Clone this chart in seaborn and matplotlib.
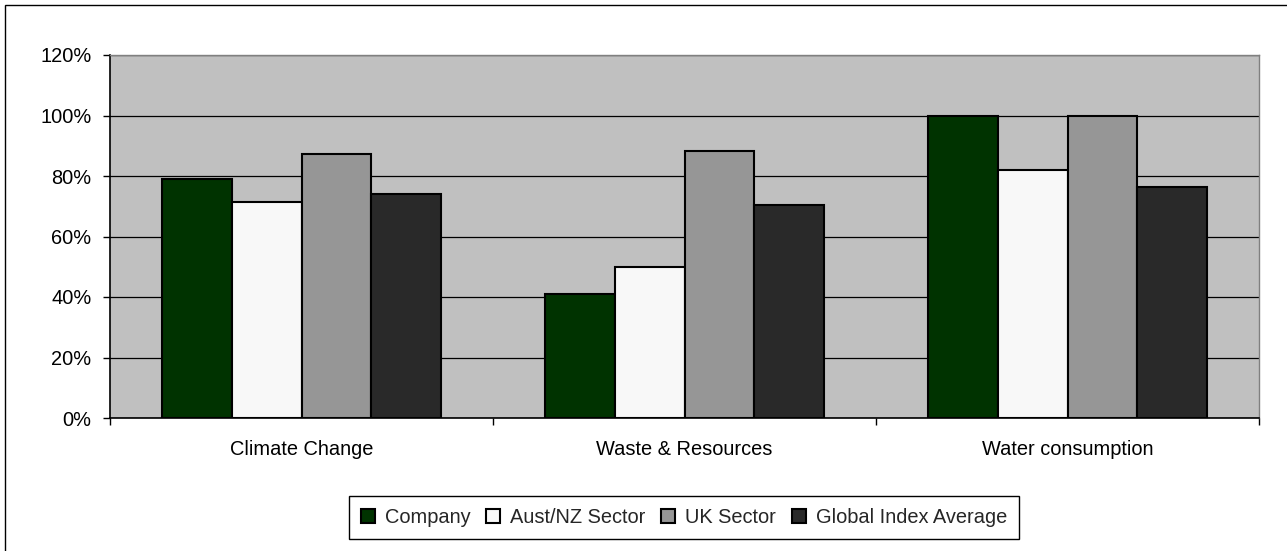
import seaborn as sns
import matplotlib.pyplot as plt
import pandas as pd
from matplotlib.patches import Rectangle
from matplotlib.ticker import PercentFormatter, FixedLocator

categories = ["Climate Change", "Waste & Resources", "Water consumption"]
series = ["Company", "Aust/NZ Sector", "UK Sector", "Global Index Average"]
company = [0.79, 0.41, 1.00]
aust_nz = [0.715, 0.50, 0.82]
uk_sector = [0.872, 0.884, 1.00]
global_avg = [0.74, 0.703, 0.765]
colors = ["#003300", "#F8F8F8", "#969696", "#292929"]

rows = []
for name, vals in zip(series, [company, aust_nz, uk_sector, global_avg]):
    for cat, v in zip(categories, vals):
        rows.append({"category": cat, "series": name, "value": v})
df = pd.DataFrame(rows)

sns.set_style("white")
plt.rcParams['font.family'] = ['Liberation Sans', 'DejaVu Sans']
plt.rcParams['font.size'] = 14.4

fig = plt.figure(figsize=(12.87, 5.51), dpi=100)
ax = fig.add_axes([110 / 1287, 1 - 418 / 551, (1259 - 110) / 1287, (418 - 55) / 551])
ax.set_facecolor("#C0C0C0")

sns.barplot(
    data=df, x="category", y="value", hue="series",
    order=categories, hue_order=series, palette=colors,
    width=0.73, gap=0, edgecolor="black", linewidth=1.5,
    saturation=1, ax=ax, zorder=3
)

ax.set_ylim(0, 1.2)
ax.set_xlim(-0.5, 2.5)
ax.yaxis.set_major_locator(FixedLocator([0, 0.2, 0.4, 0.6, 0.8, 1.0, 1.2]))
ax.yaxis.set_major_formatter(PercentFormatter(1.0, decimals=0))
ax.grid(axis="y", color="black", linewidth=0.9, zorder=1)
ax.set_axisbelow(True)
ax.set_xlabel("")
ax.set_ylabel("")

# separator ticks between categories
ax.xaxis.set_minor_locator(FixedLocator([-0.5, 0.5, 1.5, 2.5]))
ax.tick_params(axis="x", which="major", length=0, pad=16, labelsize=14.4, colors="black")
ax.tick_params(axis="x", which="minor", length=5, width=1, direction="out", color="black", bottom=True)
ax.tick_params(axis="y", length=5, width=1, direction="out", pad=8.5, labelsize=14.4, colors="black", left=True)

for side in ["top", "right"]:
    ax.spines[side].set_color("#808080")
    ax.spines[side].set_linewidth(1)
for side in ["left", "bottom"]:
    ax.spines[side].set_color("black")
    ax.spines[side].set_linewidth(1.2)

handles, labels = ax.get_legend_handles_labels()
ax.get_legend().remove()
leg = fig.legend(
    handles, labels, ncol=4, loc="center",
    bbox_to_anchor=(684 / 1287, 1 - 517.5 / 551),
    handlelength=0.68, handleheight=0.7, handletextpad=0.5,
    columnspacing=0.8, borderpad=0.6, fancybox=False, framealpha=1,
    edgecolor="black", fontsize=14.4
)
leg.get_frame().set_linewidth(1)

fig.patches.append(Rectangle((5 / 1287, -0.1), 1.2, 1.1 - 5 / 551, transform=fig.transFigure,
                             fill=False, edgecolor="black", linewidth=1))

fig.savefig("out.png", dpi=100)
